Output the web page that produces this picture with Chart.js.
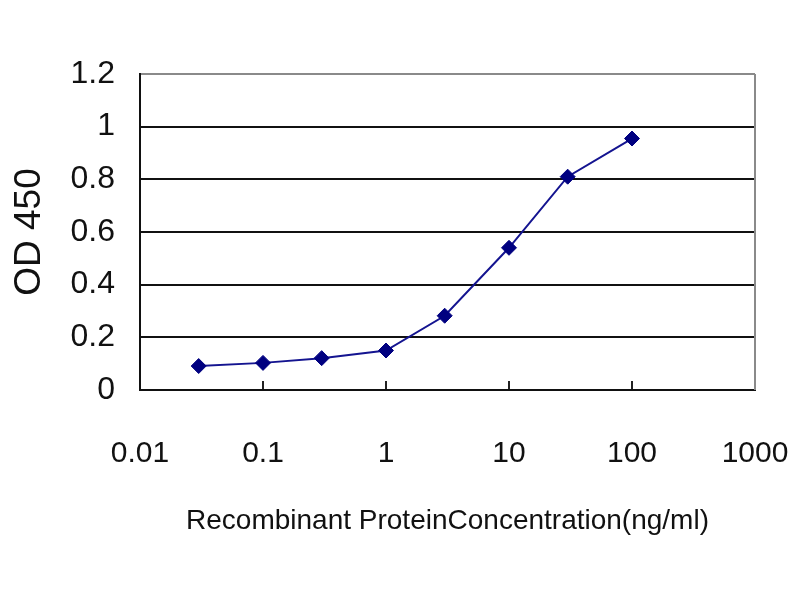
<!DOCTYPE html>
<html>
<head>
<meta charset="utf-8">
<script src="https://cdn.jsdelivr.net/npm/chart.js@4"></script>
<style>
  html, body { margin: 0; padding: 0; background: #ffffff; }
  #wrap { width: 800px; height: 600px; }
</style>
</head>
<body>
<div id="wrap"><canvas id="c" width="800" height="600"></canvas></div>
<script>
// ---- data ----
const concentrations = [0.03, 0.1, 0.3, 1, 3, 10, 30, 100];
const od450 = [0.091, 0.103, 0.121, 0.150, 0.282, 0.540, 0.810, 0.955];

const xTickValues = [0.01, 0.1, 1, 10, 100, 1000];
const xTickLabels = ['0.01', '0.1', '1', '10', '100', '1000'];
const yTickValues = [0, 0.2, 0.4, 0.6, 0.8, 1.0, 1.2];
const yTickLabels = ['0', '0.2', '0.4', '0.6', '0.8', '1', '1.2'];

const xTitle = 'Recombinant ProteinConcentration(ng/ml)';
const yTitle = 'OD 450';

const points = concentrations.map((c, i) => ({ x: c, y: od450[i] }));

const FONT = "'Liberation Sans', Arial, sans-serif";

const frameRight = {
  id: 'frameRight',
  beforeDatasetsDraw(chart) {
    const a = chart.chartArea, ctx = chart.ctx;
    ctx.save();
    ctx.strokeStyle = '#8a8a8a';
    ctx.lineWidth = 2;
    ctx.beginPath();
    ctx.moveTo(a.right, a.top);
    ctx.lineTo(a.right, a.bottom);
    ctx.stroke();
    ctx.restore();
  }
};

new Chart(document.getElementById('c'), {
  type: 'scatter',
  data: {
    datasets: [{
      data: points,
      showLine: true,
      borderColor: '#141490',
      borderWidth: 2,
      backgroundColor: '#000080',
      pointBackgroundColor: '#000080',
      pointBorderColor: '#000080',
      pointStyle: 'rectRot',
      pointRadius: 7.5,
      pointBorderWidth: 1,
      tension: 0
    }]
  },
  plugins: [frameRight],
  options: {
    responsive: false,
    animation: false,
    layout: { padding: { left: 0, right: 45, top: 74, bottom: 0 } },
    plugins: {
      legend: { display: false },
      tooltip: { enabled: false }
    },
    scales: {
      x: {
        type: 'logarithmic',
        min: 0.01,
        max: 1000,
        afterBuildTicks: (s) => { s.ticks = xTickValues.map(v => ({ value: v })); },
        afterFit: (s) => { s.height = 210; s.paddingRight = 0; s.paddingLeft = 0; },
        ticks: {
          autoSkip: false,
          maxRotation: 0,
          color: '#111',
          font: { family: FONT, size: 30 },
          padding: 55,
          callback: (v, i) => xTickLabels[i]
        },
        grid: {
          display: true,
          drawOnChartArea: false,
          drawTicks: true,
          tickLength: -9,
          color: '#222',
          lineWidth: 2
        },
        border: { display: true, color: '#111', width: 2 },
        title: {
          display: true,
          text: xTitle,
          color: '#111',
          font: { family: FONT, size: 28 },
          padding: { top: 0, bottom: 62 }
        }
      },
      y: {
        min: 0,
        max: 1.2,
        afterBuildTicks: (s) => { s.ticks = yTickValues.map(v => ({ value: v })); },
        afterFit: (s) => { s.width = 140; },
        ticks: {
          color: '#111',
          font: { family: FONT, size: 32 },
          padding: 25,
          callback: (v, i) => yTickLabels[i]
        },
        grid: {
          drawTicks: false,
          color: (ctx) => (ctx.tick && ctx.tick.value > 1.1 ? '#8a8a8a' : '#111'),
          lineWidth: 2
        },
        border: { display: true, color: '#111', width: 2 },
        title: {
          display: true,
          text: yTitle,
          color: '#111',
          font: { family: FONT, size: 37 },
          padding: { top: 8, bottom: 0 }
        }
      }
    }
  }
});
</script>
</body>
</html>
